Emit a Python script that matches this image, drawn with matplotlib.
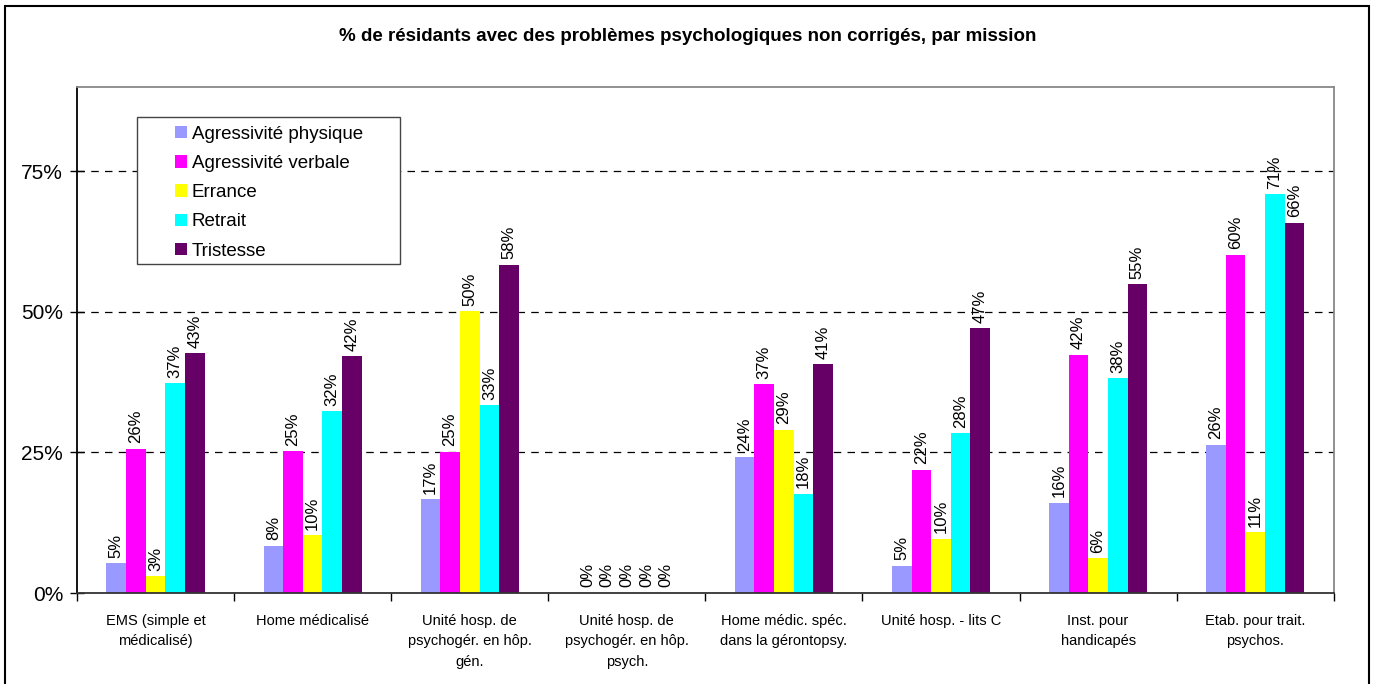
import matplotlib
matplotlib.use("Agg")
import matplotlib.pyplot as plt
from matplotlib.patches import Rectangle
import numpy as np

plt.rcParams['font.family'] = ['Liberation Sans', 'DejaVu Sans']

# categories (missions) and series values in %
missions = ["EMS (simple et\nmédicalisé)", "Home médicalisé",
            "Unité hosp. de\npsychogér. en hôp.\ngén.",
            "Unité hosp. de\npsychogér. en hôp.\npsych.",
            "Home médic. spéc.\ndans la gérontopsy.", "Unité hosp. - lits C",
            "Inst. pour\nhandicapés", "Etab. pour trait.\npsychos."]
series = ["Agressivité physique", "Agressivité verbale", "Errance", "Retrait", "Tristesse"]
colors = ["#9999FF", "#FF00FF", "#FFFF00", "#00FFFF", "#660066"]

agr_phys = [5.3, 8.4, 16.7, 0, 24.2, 4.8, 16.0, 26.4]
agr_verb = [25.6, 25.2, 25.1, 0, 37.1, 21.9, 42.4, 60.1]
errance = [3.0, 10.3, 50.1, 0, 29.0, 9.6, 6.2, 10.8]
retrait = [37.3, 32.3, 33.4, 0, 17.6, 28.4, 38.2, 70.9]
tristesse = [42.6, 42.1, 58.4, 0, 40.7, 47.1, 54.9, 65.8]
values = [agr_phys, agr_verb, errance, retrait, tristesse]

fig = plt.figure(figsize=(13.75, 6.84), dpi=100)
ax = fig.add_axes([0.056, 0.133, 0.914, 0.74])

# outer frame of the chart area
fig.patches.append(Rectangle((5/1375, -0.05), 1364/1375, 1 - 6/684 + 0.05, transform=fig.transFigure,
                             fill=False, edgecolor="black", linewidth=1.5, clip_on=False))

x = np.arange(len(missions))
w = 0.125
for i, (name, vals) in enumerate(zip(series, values)):
    pos = x + (i - 2) * w
    ax.bar(pos, vals, width=w, color=colors[i], label=name, zorder=2)
    for px, v in zip(pos, vals):
        ax.annotate("{:.0f}%".format(v), (px, v), xytext=(0, 4), textcoords="offset points",
                    rotation=90, ha="center", va="bottom", fontsize=12)

ax.set_xlim(-0.5, 7.5)
ax.set_ylim(0, 90)
ax.set_yticks([0, 25, 50, 75])
ax.set_yticklabels(["0%", "25%", "50%", "75%"], fontsize=15)
for y in [25, 50, 75]:
    ax.axhline(y, color="black", linestyle=(0, (6, 5)), linewidth=0.9, zorder=1)
ax.tick_params(axis="y", direction="inout", length=10, width=1, pad=5)

ax.set_xticks(x)
ax.set_xticklabels(missions, fontsize=10.5, linespacing=1.6)
ax.tick_params(axis="x", length=0, pad=15)
ax.set_xticks(np.arange(-0.5, 8, 1), minor=True)
ax.tick_params(axis="x", which="minor", direction="out", length=6, width=1)

ax.spines["left"].set_color("black")
ax.spines["bottom"].set_color("#333333")
ax.spines["top"].set_color("#888888")
ax.spines["right"].set_color("#888888")
for s in ax.spines.values():
    s.set_linewidth(1.3)

# legend box drawn separately (wide left margin in the original)
ax.add_patch(Rectangle((0.0477, 0.650), 0.2093, 0.291, transform=ax.transAxes,
                       facecolor="white", edgecolor="#444444", linewidth=1.0, zorder=3))
leg = ax.legend(loc="upper left", bbox_to_anchor=(0.078, 0.923), borderaxespad=0, borderpad=0,
                fontsize=13.5, frameon=False, handlelength=0.64, handleheight=0.64,
                handletextpad=0.25, labelspacing=0.65)
leg.set_zorder(4)

fig.text(0.5, 0.947, "% de résidants avec des problèmes psychologiques non corrigés, par mission",
         ha="center", va="center", fontsize=13.5, fontweight="bold")

fig.savefig("out.png", dpi=100)
